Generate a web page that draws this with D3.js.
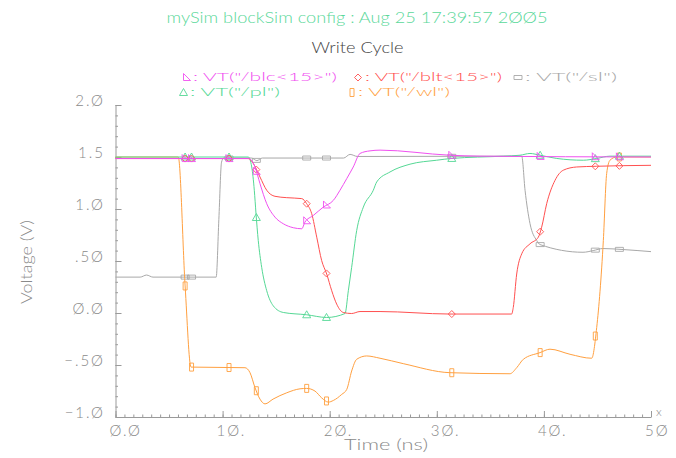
<!DOCTYPE html>
<html><head><meta charset="utf-8">
<script src="https://cdn.jsdelivr.net/npm/d3@7"></script>
<style>body{margin:0;background:#fff}svg{display:block}</style>
</head><body><svg id="c" width="676" height="458"></svg>
<script>
// ---------- data ----------
const titleText = "mySim blockSim config : Aug 25 17:39:57 2ØØ5";
const subtitleText = "Write Cycle";
const xLabel = "Time (ns)";
const yLabel = "Voltage (V)";
const xTickValues = [0, 10, 20, 30, 40, 50];
const xTickLabels = ["Ø.Ø", "1Ø.", "2Ø.", "3Ø.", "4Ø.", "5Ø"];
const yTickValues = [2.0, 1.5, 1.0, 0.5, 0.0, -0.5, -1.0];
const yTickLabels = ["2.Ø", "1.5", "1.Ø", ".5Ø", "Ø.Ø", "−.5Ø", "−1.Ø"];

const seriesNames = ["blc", "blt", "sl", "pl", "wl"];
const legendLabels = [': VT("/blc<15>")', ': VT("/blt<15>")', ': VT("/sl")', ': VT("/pl")', ': VT("/wl")'];

const blcT = [0, 12.4, 13.03, 13.49, 14.12, 14.89, 15.67, 16.6, 17.39, 17.69, 18.47, 19.4, 20.34, 20.96, 21.59, 22.2, 22.83, 23.76, 24.7, 31.23, 34.03, 50];
const blcV = [1.485, 1.485, 1.404, 1.244, 1.051, 0.922, 0.858, 0.82, 0.81, 0.874, 0.938, 1.018, 1.083, 1.18, 1.292, 1.404, 1.534, 1.559, 1.566, 1.517, 1.508, 1.5];

const bltT = [0, 12.4, 12.87, 13.49, 14.12, 14.89, 15.99, 17.39, 17.85, 18.32, 18.79, 19.25, 19.72, 20.19, 20.65, 21.27, 22.05, 22.83, 24.7, 31.23, 36.99, 37.14, 37.46, 37.93, 38.7, 39.48, 39.79, 40.26, 41.04, 41.81, 43.06, 44.93, 50];
const bltV = [1.485, 1.485, 1.437, 1.308, 1.18, 1.122, 1.109, 1.1, 1.051, 0.955, 0.729, 0.504, 0.375, 0.214, 0.086, 0.005, -0.005, 0.014, 0.014, -0.01, -0.01, 0.053, 0.375, 0.569, 0.665, 0.729, 0.825, 1.051, 1.276, 1.373, 1.404, 1.411, 1.42];

const slT = [0, 2.3, 2.9, 3.5, 9.4, 9.65, 9.9, 10.1, 12.7, 13.2, 13.7, 21.3, 21.9, 22.6, 37.93, 38.24, 38.7, 39.33, 39.64, 43.65, 44.6, 45.5, 47.4, 50];
const slV = [0.345, 0.345, 0.365, 0.345, 0.345, 0.9, 1.45, 1.49, 1.49, 1.465, 1.49, 1.49, 1.525, 1.505, 1.508, 1.18, 0.861, 0.697, 0.658, 0.584, 0.6, 0.62, 0.61, 0.59];

const plT = [0, 12.4, 12.72, 12.96, 13.12, 13.33, 13.65, 14.12, 14.73, 15.67, 17.85, 19.72, 21.43, 21.74, 22.05, 22.52, 23.14, 24.07, 24.39, 25.63, 27.5, 29.99, 31.39, 36.21, 37.77, 38.7, 39.64, 41.2, 43.68, 44.93, 46.17, 50];
const plV = [1.5, 1.5, 1.404, 1.18, 0.955, 0.697, 0.439, 0.214, 0.069, 0.005, -0.017, -0.043, -0.005, 0.214, 0.439, 0.793, 1.018, 1.18, 1.26, 1.356, 1.431, 1.469, 1.486, 1.508, 1.517, 1.534, 1.517, 1.486, 1.469, 1.486, 1.508, 1.508];

const wlT = [0, 5.86, 6.5, 7.05, 12.09, 12.56, 13.03, 13.49, 13.96, 14.71, 15.99, 17.23, 17.85, 18.63, 19.25, 19.87, 20.34, 21.12, 21.59, 22.05, 22.52, 23.45, 24.7, 26.87, 31.23, 36.83, 37.46, 38.08, 39.64, 40.57, 42.44, 44.46, 44.93, 45.55, 45.86, 46.17, 46.8, 50];
const wlV = [1.5, 1.5, 0.26, -0.52, -0.526, -0.574, -0.719, -0.828, -0.874, -0.828, -0.767, -0.729, -0.725, -0.751, -0.816, -0.857, -0.841, -0.783, -0.735, -0.558, -0.445, -0.413, -0.435, -0.487, -0.574, -0.584, -0.526, -0.445, -0.381, -0.348, -0.397, -0.435, -0.14, 0.697, 1.34, 1.469, 1.5, 1.5];

const markerTimes = [6.5, 7.1, 10.6, 13.15, 17.85, 19.7, 31.4, 39.65, 44.8, 47.05];

// ---------- styles ----------
const colors = {blc: "#f050f0", blt: "#ff5050", sl: "#a8a8a8", pl: "#55d895", wl: "#ffa040"};
const shapes = {blc: "rtri", blt: "diamond", sl: "hrect", pl: "tri", wl: "vrect"};
const seriesData = {
  blc: [blcT, blcV], blt: [bltT, bltV], sl: [slT, slV], pl: [plT, plV], wl: [wlT, wlV]
};
const FONT = "Lato, 'Open Sans', 'DejaVu Sans', sans-serif";
const FW = 300;

const svg = d3.select("#c");
const x = d3.scaleLinear().domain([0, 50]).range([115.5, 651]);
const y = d3.scaleLinear().domain([-1, 2]).range([417, 105]);

// ---------- axes ----------
const axCol = "#9a9a9a";
const xMinor = d3.range(0, 50.001, 10 / 12);
const yMinor = d3.range(-1, 2.001, 0.1).map(v => Math.round(v * 10) / 10);

const gx = svg.append("g").attr("transform", `translate(0,${y(-1)})`);
gx.call(d3.axisBottom(x).tickValues(xMinor).tickSize(-2.5).tickSizeOuter(0).tickFormat(""));
gx.append("g").call(d3.axisBottom(x).tickValues(xTickValues).tickSize(-6).tickSizeOuter(0).tickFormat(""))
  .select(".domain").remove();
gx.selectAll("path,line").attr("stroke", axCol).attr("stroke-width", 1);

const gy = svg.append("g").attr("transform", `translate(${x(0)},0)`);
gy.call(d3.axisLeft(y).tickValues(yMinor).tickSize(-2.5).tickSizeOuter(0).tickFormat(""));
gy.append("g").call(d3.axisLeft(y).tickValues(yTickValues).tickSize(-6).tickSizeOuter(0).tickFormat(""))
  .select(".domain").remove();
gy.selectAll("path,line").attr("stroke", axCol).attr("stroke-width", 1);

const labCol = "#8a8a8a";
svg.append("g").selectAll("text").data(xTickValues).join("text")
  .attr("x", d => x(d) - 6).attr("y", 436)
  .attr("font-family", FONT).attr("font-weight", FW).attr("font-size", 15).attr("fill", labCol)
  .attr("letter-spacing", 2)
  .text((d, i) => xTickLabels[i]);

svg.append("g").selectAll("text").data(yTickValues).join("text")
  .attr("x", 105).attr("y", d => y(d) + 0.5)
  .attr("text-anchor", "end")
  .attr("font-family", FONT).attr("font-weight", FW).attr("font-size", 15).attr("fill", labCol)
  .attr("letter-spacing", 2)
  .text((d, i) => yTickLabels[i]);

svg.append("text").attr("x", 656).attr("y", 416).attr("font-family", FONT).attr("font-weight", FW)
  .attr("font-size", 12).attr("fill", labCol).text("x");

// axis titles
svg.append("text").attr("x", 386).attr("y", 450).attr("text-anchor", "middle")
  .attr("font-family", FONT).attr("font-weight", FW).attr("font-size", 16).attr("fill", labCol)
  .attr("textLength", 84).attr("lengthAdjust", "spacingAndGlyphs").text(xLabel);
svg.append("text").attr("transform", "translate(32,262) rotate(-90)").attr("text-anchor", "middle")
  .attr("font-family", FONT).attr("font-weight", FW).attr("font-size", 15).attr("fill", labCol)
  .attr("textLength", 84).attr("lengthAdjust", "spacingAndGlyphs").text(yLabel);

// titles
svg.append("text").attr("x", 357).attr("y", 22.5).attr("text-anchor", "middle")
  .attr("font-family", FONT).attr("font-weight", FW).attr("font-size", 15).attr("fill", "#5ad89a")
  .attr("textLength", 381).attr("lengthAdjust", "spacingAndGlyphs").text(titleText);
svg.append("text").attr("x", 357.5).attr("y", 52.5).attr("text-anchor", "middle")
  .attr("font-family", FONT).attr("font-weight", FW).attr("font-size", 15).attr("fill", "#444")
  .attr("textLength", 92).attr("lengthAdjust", "spacingAndGlyphs").text(subtitleText);

// ---------- marker shapes ----------
function markerPath(shape, cx, cy) {
  switch (shape) {
    case "rtri": return `M${cx - 3},${cy - 4}L${cx - 3},${cy + 3}L${cx + 4},${cy + 3}Z`;
    case "diamond": return `M${cx},${cy - 3.5}L${cx + 3.5},${cy}L${cx},${cy + 3.5}L${cx - 3.5},${cy}Z`;
    case "hrect": return `M${cx - 4},${cy - 2}h8v4h-8Z`;
    case "tri": return `M${cx},${cy - 4}L${cx + 4},${cy + 3}L${cx - 4},${cy + 3}Z`;
    case "vrect": return `M${cx - 2},${cy - 4}h4v8h-4Z`;
  }
}
function valueAt(ts, vs, t) {
  const i = d3.bisectLeft(ts, t);
  if (i <= 0) return vs[0];
  if (i >= ts.length) return vs[vs.length - 1];
  const f = (t - ts[i - 1]) / (ts[i] - ts[i - 1]);
  return vs[i - 1] + f * (vs[i] - vs[i - 1]);
}

// ---------- curves ----------
const line = d3.line().x(d => x(d[0])).y(d => y(d[1])).curve(d3.curveMonotoneX);
const drawOrder = ["sl", "wl", "pl", "blt", "blc"];
const plot = svg.append("g");
drawOrder.forEach(name => {
  const [ts, vs] = seriesData[name];
  const pts = ts.map((t, i) => [t, vs[i]]);
  plot.append("path").attr("d", line(pts)).attr("fill", "none")
    .attr("stroke", colors[name]).attr("stroke-width", 1);
  plot.append("g").selectAll("path").data(markerTimes).join("path")
    .attr("d", t => markerPath(shapes[name], x(t), y(valueAt(ts, vs, t))))
    .attr("fill", "none").attr("stroke", colors[name]).attr("stroke-width", 0.9);
});

// ---------- legend ----------
const legendPos = {
  blc: {mx: 186.5, tx: 193, y: 80.5, w: 144},
  blt: {mx: 358, tx: 365, y: 80.5, w: 137},
  sl:  {mx: 518, tx: 525, y: 80.5, w: 92},
  pl:  {mx: 183.5, tx: 190, y: 95.5, w: 90},
  wl:  {mx: 352, tx: 358, y: 95.5, w: 92}
};
seriesNames.forEach((name, i) => {
  const p = legendPos[name];
  svg.append("path").attr("d", markerPath(shapes[name], p.mx, p.y - 3))
    .attr("fill", "none").attr("stroke", colors[name]).attr("stroke-width", 0.9);
  svg.append("text").attr("x", p.tx).attr("y", p.y)
    .attr("font-family", FONT).attr("font-weight", FW).attr("font-size", 12.5).attr("fill", colors[name])
    .attr("textLength", p.w).attr("lengthAdjust", "spacingAndGlyphs").text(legendLabels[i]);
});
</script></body></html>
